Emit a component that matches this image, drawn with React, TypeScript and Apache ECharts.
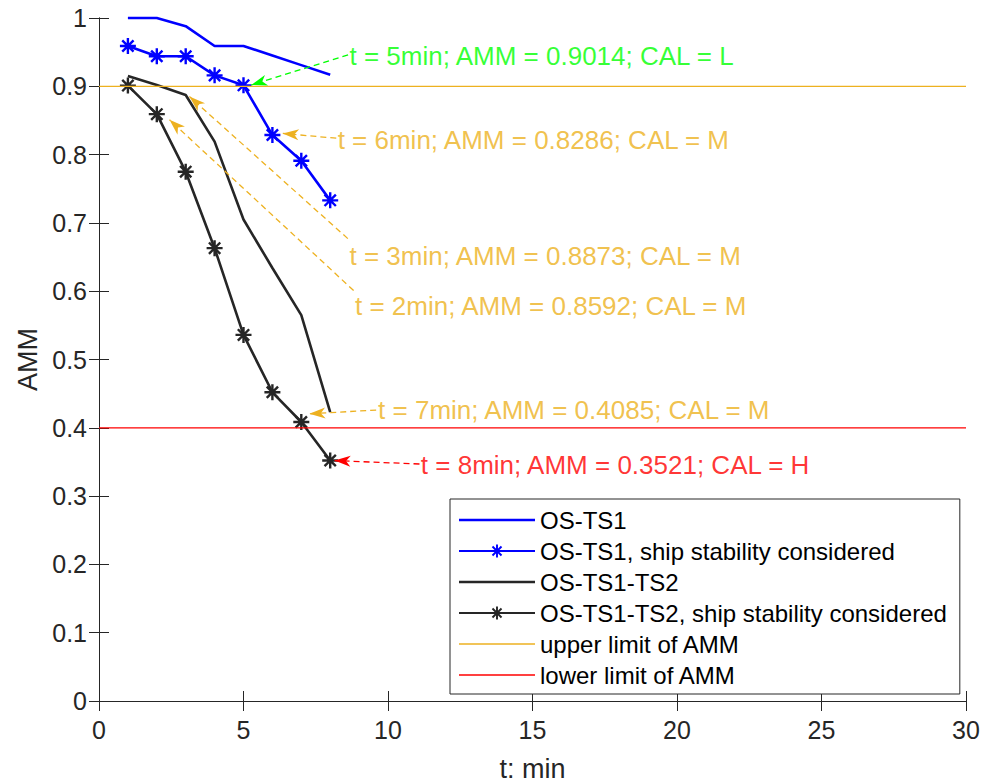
import React, { useEffect, useRef } from 'react';
import * as echarts from 'echarts';

// ---------- data ----------
const tMin = [1, 2, 3, 4, 5, 6, 7, 8];
const osTs1 = [1.0, 1.0, 0.988, 0.959, 0.959, 0.945, 0.931, 0.917];
const osTs1Stab = [0.959, 0.944, 0.944, 0.916, 0.9014, 0.8286, 0.791, 0.733];
const osTs1Ts2 = [0.915, 0.902, 0.8873, 0.819, 0.705, 0.634, 0.565, 0.423];
const osTs1Ts2Stab = [0.901, 0.8592, 0.775, 0.663, 0.536, 0.452, 0.4085, 0.3521];
const upperLimit = 0.9;
const lowerLimit = 0.4;
const xMin = 0;
const xMax = 30;

const seriesNames = [
  'OS-TS1',
  'OS-TS1, ship stability considered',
  'OS-TS1-TS2',
  'OS-TS1-TS2, ship stability considered',
  'upper limit of AMM',
  'lower limit of AMM',
];

const annoLabels = [
  't = 5min; AMM = 0.9014; CAL = L',
  't = 6min; AMM = 0.8286; CAL = M',
  't = 3min; AMM = 0.8873; CAL = M',
  't = 2min; AMM = 0.8592; CAL = M',
  't = 7min; AMM = 0.4085; CAL = M',
  't = 8min; AMM = 0.3521; CAL = H',
];
const annoColors = ['#00FF00', '#EDB120', '#EDB120', '#EDB120', '#EDB120', '#FF0000'];
// text anchor (left-middle) in data coords
const annoTextAt = [
  [8.65, 0.945],
  [8.24, 0.822],
  [8.65, 0.651],
  [8.84, 0.579],
  [9.64, 0.426],
  [11.12, 0.346],
];
// arrow tail and head in data coords
const annoTail = [
  [8.62, 0.946],
  [8.21, 0.824],
  [8.61, 0.677],
  [8.81, 0.601],
  [9.59, 0.426],
  [11.09, 0.347],
];
const annoTip = [
  [5.27, 0.902],
  [6.36, 0.831],
  [3.13, 0.885],
  [2.44, 0.851],
  [7.28, 0.4205],
  [8.15, 0.352],
];

// ---------- styles ----------
const BLUE = '#0000FF';
const DARK = '#262626';
const ORANGE = '#EDB120';
const RED = '#FF0000';
const FONT = '"Liberation Sans", Arial, Helvetica, sans-serif';

const STAR =
  'path://M-1.5,-10L1.5,-10L1.5,10L-1.5,10Z' +
  'M-10,-1.5L10,-1.5L10,1.5L-10,1.5Z' +
  'M-6.01,-8.13L8.13,6.01L6.01,8.13L-8.13,-6.01Z' +
  'M8.13,-6.01L-6.01,8.13L-8.13,6.01L6.01,-8.13Z';
const ARROW = 'path://M-16,-16M16,16M0,0L5.5,16L0,11.5L-5.5,16Z';
const LEG_LINE_THICK = 'path://M0,0L76,0L76,2.6L0,2.6Z';
const LEG_LINE_THIN = 'path://M0,0L76,0L76,1.3L0,1.3Z';

const pairs = (ys: number[]) => tMin.map((x, i) => [x, ys[i]]);

export default function App() {
  const ref = useRef<HTMLDivElement>(null);
  useEffect(() => {
    if (!ref.current) return;
    const chart = echarts.init(ref.current, undefined, { renderer: 'svg' });

    const axisCommon = {
      type: 'value' as const,
      axisLine: { show: true, lineStyle: { color: DARK, width: 1 } },
      axisTick: { show: true, inside: true, length: 10, lineStyle: { color: DARK, width: 1 } },
      splitLine: { show: false },
    };

    const lineSeries = (name: string, ys: number[], color: string, star: boolean) => ({
      name,
      type: 'line',
      data: pairs(ys),
      clip: false,
      symbol: star ? STAR : 'none',
      symbolSize: 16,
      symbolKeepAspect: true,
      showSymbol: star,
      itemStyle: { color, borderWidth: 0 },
      lineStyle: { color, width: 2.6 },
      z: 3,
    });

    const limitSeries = (name: string, y: number, color: string) => ({
      name,
      type: 'line',
      data: [
        [xMin, y],
        [xMax, y],
      ],
      symbol: 'none',
      showSymbol: false,
      itemStyle: { color },
      lineStyle: { color, width: 1.2 },
      z: 4,
    });

    chart.setOption({
      animation: false,
      textStyle: { fontFamily: FONT },
      grid: { left: 99, right: 28, top: 18, bottom: 81, containLabel: false, outerBoundsMode: 'none' },
      xAxis: [
        {
          ...axisCommon,
          position: 'bottom',
          min: xMin,
          max: xMax,
          interval: 5,
          axisLabel: { fontSize: 25, color: DARK, margin: 16, fontFamily: FONT },
          name: 't: min',
          nameLocation: 'middle',
          nameGap: 54,
          nameTextStyle: { fontSize: 27, color: DARK, fontFamily: FONT },
        },
        {
          ...axisCommon,
          position: 'top',
          min: xMin,
          max: xMax,
          interval: 5,
          axisLabel: { show: false },
        },
      ],
      yAxis: [
        {
          ...axisCommon,
          position: 'left',
          min: 0,
          max: 1,
          interval: 0.1,
          axisLabel: { fontSize: 25, color: DARK, margin: 12, fontFamily: FONT },
          name: 'AMM',
          nameLocation: 'middle',
          nameGap: 56,
          nameTextStyle: { fontSize: 27, color: DARK, fontFamily: FONT },
        },
        {
          ...axisCommon,
          position: 'right',
          min: 0,
          max: 1,
          interval: 0.1,
          axisLabel: { show: false },
        },
      ],
      legend: {
        data: [
          { name: seriesNames[0], icon: LEG_LINE_THICK },
          { name: seriesNames[1] },
          { name: seriesNames[2], icon: LEG_LINE_THICK },
          { name: seriesNames[3] },
          { name: seriesNames[4], icon: LEG_LINE_THIN },
          { name: seriesNames[5], icon: LEG_LINE_THIN },
        ],
        orient: 'vertical',
        left: 450,
        top: 499,
        padding: [9, 13, 7, 8],
        itemWidth: 76,
        itemHeight: 16,
        itemGap: 7,
        selectedMode: false,
        backgroundColor: '#FFFFFF',
        borderColor: DARK,
        borderWidth: 1,
        textStyle: { fontSize: 24, color: '#000000', fontFamily: FONT },
        z: 10,
      },
      series: [
        lineSeries(seriesNames[0], osTs1, BLUE, false),
        lineSeries(seriesNames[1], osTs1Stab, BLUE, true),
        lineSeries(seriesNames[2], osTs1Ts2, DARK, false),
        lineSeries(seriesNames[3], osTs1Ts2Stab, DARK, true),
        limitSeries(seriesNames[4], upperLimit, ORANGE),
        limitSeries(seriesNames[5], lowerLimit, RED),
        {
          name: 'annotations',
          type: 'scatter',
          silent: true,
          symbol: 'circle',
          symbolSize: 1,
          itemStyle: { color: 'rgba(0,0,0,0)' },
          z: 6,
          data: annoLabels.map((txt, i) => ({
            name: txt,
            value: annoTextAt[i],
            label: { color: annoColors[i] },
          })),
          label: {
            show: true,
            position: 'right',
            distance: 0,
            formatter: '{b}',
            fontSize: 26,
            fontFamily: FONT,
          },
          markLine: {
            silent: true,
            symbol: ['none', ARROW],
            symbolSize: 32,
            label: { show: false },
            animation: false,
            data: annoLabels.map((_, i) => [
              {
                coord: annoTail[i],
                lineStyle: { color: annoColors[i], type: [6, 4], width: 1.3 },
                itemStyle: { color: annoColors[i] },
              },
              {
                coord: annoTip[i],
                lineStyle: { color: annoColors[i], type: [6, 4], width: 1.3 },
                itemStyle: { color: annoColors[i] },
              },
            ]),
          },
        },
      ],
    });

    return () => chart.dispose();
  }, []);

  return (
    <div
      ref={ref}
      style={{ position: 'fixed', left: 0, top: 0, width: 994, height: 782, background: '#FFFFFF' }}
    />
  );
}
